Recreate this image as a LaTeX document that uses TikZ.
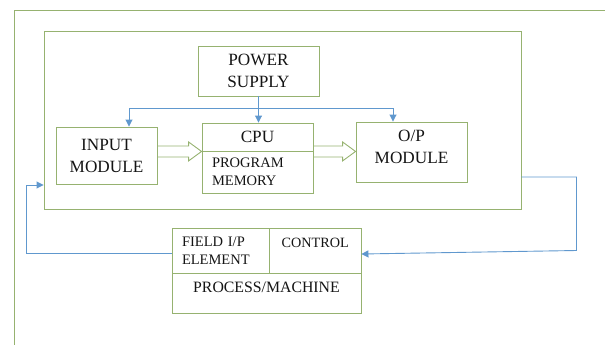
\documentclass[tikz,border=0pt]{standalone}
\usepackage{fontspec}
\setmainfont{Liberation Serif}
\usetikzlibrary{arrows.meta, positioning, calc}
\definecolor{plcgreen}{RGB}{150,178,112}
\definecolor{plcblue}{RGB}{96,152,206}
\definecolor{plcink}{RGB}{20,20,20}
\tikzset{
  unit/.style={
    draw=plcgreen,
    line width=0.9pt,
    align=center,
    inner sep=0pt,
    font=\fontsize{17.2}{22}\selectfont,
    text=plcink
  },
  cell/.style={
    unit,
    align=left,
    inner xsep=10pt,
    font=\fontsize{14.5}{18}\selectfont
  },
  frame/.style={draw=plcgreen, line width=0.9pt},
  feed/.style={-{Triangle[length=7pt,width=7pt]}, line width=0.9pt, draw=plcblue},
  fat/.style={draw=plcgreen, line width=0.9pt, line join=miter}
}
% hollow block arrow between two points
\newcommand{\fatarrow}[2]{%
  \draw[fat] ($(#1)+(0,-5.5)$) -- ($(#2)+(-13,-5.5)$) -- ($(#2)+(-13,-9.5)$)
    -- (#2) -- ($(#2)+(-13,9.5)$) -- ($(#2)+(-13,5.5)$) -- ($(#1)+(0,5.5)$);}

\begin{document}
\begin{tikzpicture}[x=1pt,y=-1pt]
  \useasboundingbox (0,0) rectangle (605,345);
  \draw[frame] (14,345) -- (14,10) -- (605,10);

  \node[frame, minimum width=477pt, minimum height=178pt] (plc) at (282.5,120) {};
  \node[unit, minimum width=121pt, minimum height=50pt] (power) at (258.5,71) {POWER\\SUPPLY};
  \node[unit, minimum width=101pt, minimum height=57pt] (input) at (106.5,155.5) {INPUT\\MODULE};
  \node[unit, minimum width=111pt, minimum height=28pt] (cputop) at (257.5,137) {CPU};
  \node[cell, text width=91pt, minimum height=42pt] (cpumem) at (257.5,172) {PROGRAM\\MEMORY};
  \node[unit, minimum width=111pt, minimum height=60pt, text depth=10pt] (op) at (411.5,152) {O/P\\MODULE};

  \node[cell, text width=77.5pt, minimum height=45pt] (field) at (220.75,250.5) {FIELD I/P\\ELEMENT};
  \node[unit, font=\fontsize{14.2}{18}\selectfont, minimum width=91.5pt, minimum height=45pt,
        text height=11pt, text depth=18pt] (ctrl) at (315.25,250.5) {CONTROL};
  \node[unit, font=\fontsize{15.8}{19}\selectfont, minimum width=189pt, minimum height=40pt,
        text height=11pt, text depth=13pt] (proc) at (266.5,293) {PROCESS/MACHINE};

  % power bus
  \coordinate (bus) at (power.south |- 0,108);
  \draw[feed] (power.south) -- (power.south |- cputop.north);
  \draw[feed] (bus) -| ([xshift=22.5pt]input.north);
  \draw[feed] (bus) -| ([xshift=-18.5pt]op.north);

  % data path
  \fatarrow{input.east |- cputop.south}{cputop.south west}
  \fatarrow{cputop.south east}{op.west |- cputop.south}

  % loop to and from the process
  \draw[feed] (plc.east |- 0,177) -| ($(ctrl.east)+(215,0)$) -- ([yshift=-3.5pt]ctrl.east);
  \draw[feed] ([yshift=-2.5pt]field.west) -| (26,185) -- (plc.west |- 0,185);
\end{tikzpicture}
\end{document}
